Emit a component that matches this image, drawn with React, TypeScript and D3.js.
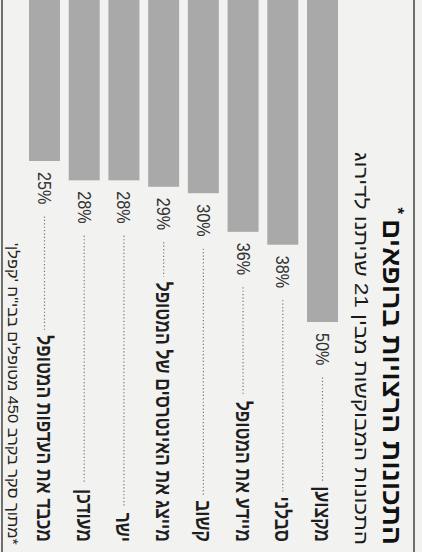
import { useEffect, useRef } from "react";
import * as d3 from "d3";

const categories = [
  "מקצוען",
  "סבלני",
  "מיידע את המטופל",
  "קשוב",
  "מייצג את האינטרסים של המטופל",
  "ישר",
  "מעודכן",
  "מכבד את העדפות המטופל",
];
const values = [50, 38, 36, 30, 29, 28, 28, 25];

const title = "התכונות הרצויות ברופאים";
const subtitle = "התכונות המבוקשות מבין 21 שניתנו לדירוג";
const footnote = "*מתוך סקר בקרב 450 מטופלים בבי\"ח 'קפלן'";

const FONT = "'Liberation Sans', 'DejaVu Sans', sans-serif";

export default function App() {
  const svgRef = useRef<SVGSVGElement>(null);

  useEffect(() => {
    document.body.style.margin = "0";
    if (!svgRef.current) return;

    // chart is laid out unrotated (W x H) then turned 90deg clockwise
    const W = 552;
    const H = 422;
    const right = 545;
    const labelRight = 542;

    const svg = d3.select(svgRef.current);
    svg.selectAll("*").remove();

    svg
      .append("rect")
      .attr("width", H)
      .attr("height", W)
      .attr("fill", "#f2f2f0");

    const g = svg.append("g").attr("transform", `translate(${H},0) rotate(90)`);

    const y = d3
      .scaleBand()
      .domain(categories)
      .range([84, 393])
      .paddingInner(0.22)
      .paddingOuter(0);

    const x = d3.scaleLinear().domain([0, 50]).range([0, 322]);

    // rules
    g.append("line")
      .attr("x1", 0)
      .attr("x2", W)
      .attr("y1", 8)
      .attr("y2", 8)
      .attr("stroke", "#444")
      .attr("stroke-width", 1.5);
    g.append("line")
      .attr("x1", 0)
      .attr("x2", W)
      .attr("y1", 420)
      .attr("y2", 420)
      .attr("stroke", "#444")
      .attr("stroke-width", 1.5);

    // title
    g.append("text")
      .attr("x", right)
      .attr("y", 39)
      .attr("direction", "rtl")
      .attr("text-anchor", "start")
      .attr("font-family", FONT)
      .attr("font-weight", "bold")
      .attr("font-size", 26)
      .attr("fill", "#111")
      .attr("textLength", 326)
      .attr("lengthAdjust", "spacingAndGlyphs")
      .text(title);
    g.append("text")
      .attr("x", right - 331)
      .attr("y", 30)
      .attr("text-anchor", "end")
      .attr("font-family", FONT)
      .attr("font-weight", "bold")
      .attr("font-size", 17)
      .attr("fill", "#111")
      .text("*");

    g.append("text")
      .attr("x", right)
      .attr("y", 67)
      .attr("direction", "rtl")
      .attr("text-anchor", "start")
      .attr("font-family", FONT)
      .attr("font-size", 19)
      .attr("fill", "#1a1a1a")
      .attr("textLength", 393)
      .attr("lengthAdjust", "spacingAndGlyphs")
      .text(subtitle);

    g.append("text")
      .attr("x", right)
      .attr("y", 414)
      .attr("direction", "rtl")
      .attr("text-anchor", "start")
      .attr("font-family", FONT)
      .attr("font-size", 15)
      .attr("fill", "#222")
      .attr("textLength", 302)
      .attr("lengthAdjust", "spacingAndGlyphs")
      .text(footnote);

    const rows = g
      .append("g")
      .selectAll("g")
      .data(categories)
      .join("g")
      .attr("transform", (d) => `translate(0,${y(d)})`);

    const bw = y.bandwidth();

    rows
      .append("rect")
      .attr("x", 0)
      .attr("y", 0)
      .attr("width", (_, i) => x(values[i]))
      .attr("height", bw)
      .attr("fill", "#a9a9a9");

    const pct = rows
      .append("text")
      .attr("x", (_, i) => x(values[i]) + 11)
      .attr("y", bw / 2 + 6.5)
      .attr("font-family", FONT)
      .attr("font-size", 18)
      .attr("fill", "#333")
      .text((_, i) => `${values[i]}%`);

    // print face is narrower than Liberation Sans: squeeze labels horizontally
    const squeeze = 0.83;
    const labels = rows
      .append("text")
      .attr("transform", `translate(${labelRight},${bw / 2 + 7.5}) scale(${squeeze},1)`)
      .attr("direction", "rtl")
      .attr("text-anchor", "start")
      .attr("font-family", FONT)
      .attr("font-weight", "bold")
      .attr("font-size", 21)
      .attr("fill", "#1e1e1e")
      .text((d) => d);

    const pctLen: number[] = [];
    pct.each(function (_, i) {
      const len = (this as SVGTextElement).getComputedTextLength() * 0.9;
      pctLen[i] = len;
      d3.select(this).attr("textLength", len).attr("lengthAdjust", "spacingAndGlyphs");
    });
    const labelLen = (labels.nodes() as SVGTextElement[]).map(
      (n) => n.getComputedTextLength() * squeeze
    );

    rows
      .append("line")
      .attr("x1", (_, i) => x(values[i]) + 11 + pctLen[i] + 12)
      .attr("x2", (_, i) => labelRight - labelLen[i] - 5)
      .attr("y1", bw / 2)
      .attr("y2", bw / 2)
      .attr("stroke", "#777")
      .attr("stroke-width", 1.2)
      .attr("stroke-dasharray", "1.2 2.2");
  }, []);

  return <svg ref={svgRef} width={422} height={552} style={{ display: "block" }} />;
}
